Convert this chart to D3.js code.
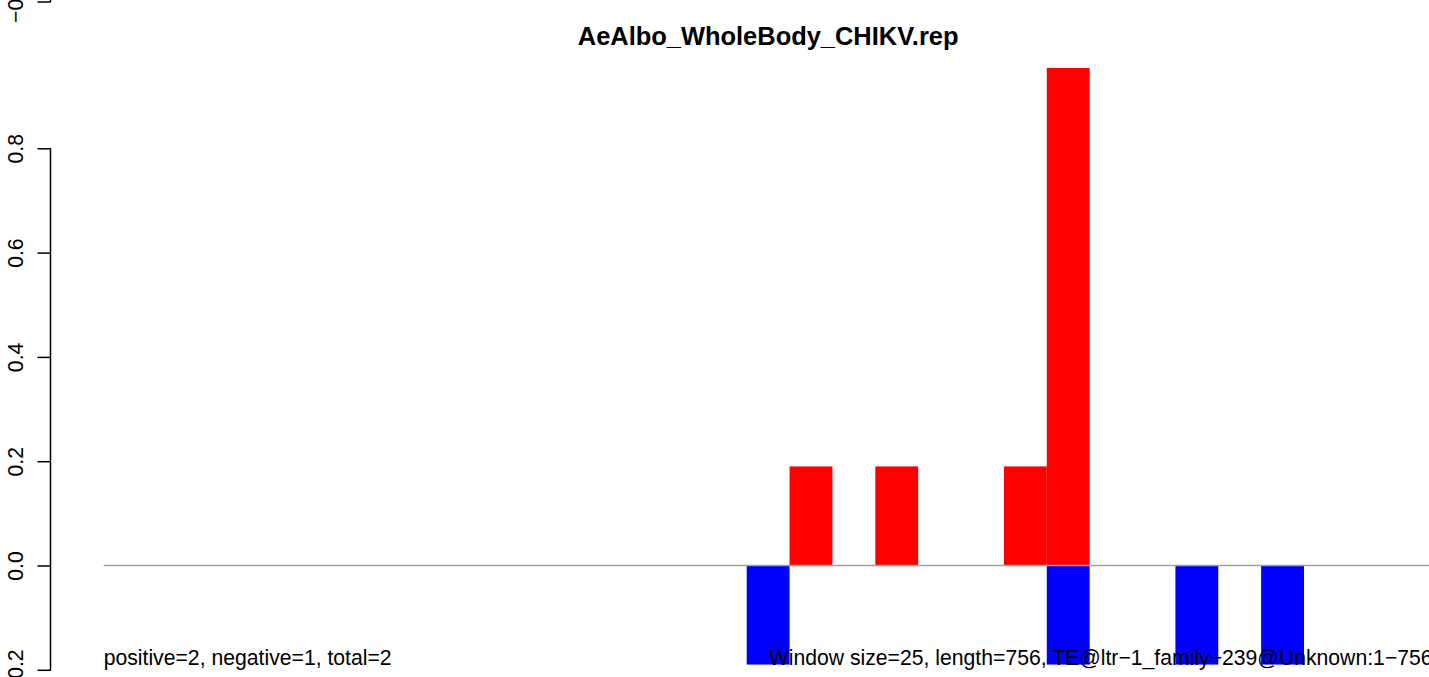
<!DOCTYPE html>
<html>
<head>
<meta charset="utf-8">
<script src="https://cdn.jsdelivr.net/npm/d3@7"></script>
<style>
  html, body { margin: 0; padding: 0; background: #fff; overflow: hidden; }
  svg { display: block; font-family: "Liberation Sans", Arial, Helvetica, sans-serif; }
</style>
</head>
<body>
<svg id="chart" width="1429" height="677"></svg>
<script>
// ---- data ----
const title = "AeAlbo_WholeBody_CHIKV.rep";
const nWindows = 31;                       // 756 / 25 -> 31 windows
const windows = d3.range(nWindows);        // window index 0..30
const positiveValues = [0,0,0,0,0,0,0,0,0,0,0,0,0,0,0,0,0.19,0,0.19,0,0,0.19,0.954,0,0,0,0,0,0,0,0];
const negativeValues = [0,0,0,0,0,0,0,0,0,0,0,0,0,0,0,-0.19,0,0,0,0,0,0,-0.19,0,0,-0.19,0,-0.19,0,0,0];
const yTicks = [-0.2, 0.0, 0.2, 0.4, 0.6, 0.8];
const upperPanelTicks = [-0.2];            // bottom tick of the panel above (cropped)
const leftNote = "positive=2, negative=1, total=2";
const rightNote = "Window size=25, length=756, TE@ltr\u22121_family\u2212239@Unknown:1\u2212756";

// ---- layout ----
const svg = d3.select("#chart");
const barW = 42.87;
const x0px = 103.65;
const pad = 0.04 * nWindows;
const x = d3.scaleLinear()
  .domain([-pad, nWindows + pad])
  .range([x0px - pad * barW, x0px + (nWindows + pad) * barW]);
const y = d3.scaleLinear().domain([0, 1]).range([565.5, 565.5 - 521.5]);
const panelOffset = 668.3;
const yUpper = d3.scaleLinear().domain([0, 1]).range([565.5 - panelOffset, 565.5 - panelOffset - 521.5]);

const fmtTick = d => (d < 0 ? "\u2212" : "") + d3.format(".1f")(Math.abs(d));
const FS = 21.2;

// bars
const bars = svg.append("g");
bars.selectAll("rect.neg")
  .data(windows.filter(i => negativeValues[i] !== 0))
  .join("rect")
  .attr("class", "neg")
  .attr("x", i => x(i))
  .attr("width", i => x(i + 1) - x(i))
  .attr("y", y(0))
  .attr("height", i => y(negativeValues[i]) - y(0))
  .attr("fill", "#0000ff");
bars.selectAll("rect.pos")
  .data(windows.filter(i => positiveValues[i] !== 0))
  .join("rect")
  .attr("class", "pos")
  .attr("x", i => x(i))
  .attr("width", i => x(i + 1) - x(i))
  .attr("y", i => y(positiveValues[i]))
  .attr("height", i => y(0) - y(positiveValues[i]))
  .attr("fill", "#ff0000");

// zero line across the windows
svg.append("line")
  .attr("x1", x(0)).attr("x2", x(nWindows))
  .attr("y1", y(0)).attr("y2", y(0))
  .attr("stroke", "#a0a0a0").attr("stroke-width", 1.3);

// y axis
const axisX = Math.round(x(-pad)) + 0.5;
function drawAxis(scale, ticks, extendTop) {
  const g = svg.append("g")
    .attr("transform", `translate(${axisX},0)`)
    .call(d3.axisLeft(scale).tickValues(ticks).tickSize(13).tickPadding(0).tickFormat(fmtTick));
  g.select(".domain").remove();
  const yTop = extendTop !== undefined ? extendTop : scale(d3.max(ticks));
  g.append("line")
    .attr("x1", 0).attr("x2", 0)
    .attr("y1", yTop).attr("y2", scale(d3.min(ticks)) + 0.75)
    .attr("stroke", "#000").attr("stroke-width", 1.5);
  g.selectAll(".tick line").attr("stroke", "#000").attr("stroke-width", 1.5);
  g.selectAll(".tick text")
    .attr("font-family", "Liberation Sans, Arial, sans-serif")
    .attr("font-size", FS)
    .attr("fill", "#000")
    .attr("x", null)
    .attr("text-anchor", "middle")
    .attr("transform", `translate(${22.5 - axisX},0) rotate(-90)`)
    .attr("dy", "0");
  return g;
}
drawAxis(y, yTicks);
drawAxis(yUpper, upperPanelTicks, -50);

// title
svg.append("text")
  .attr("x", (x(-pad) + x(nWindows + pad)) / 2)
  .attr("y", 45)
  .attr("text-anchor", "middle")
  .attr("font-weight", "bold")
  .attr("font-size", FS * 1.2)
  .text(title);

// notes
svg.append("text")
  .attr("x", x(0)).attr("y", 665)
  .attr("font-size", FS)
  .attr("text-anchor", "start")
  .text(leftNote);
svg.append("text")
  .attr("x", x(nWindows)).attr("y", 665)
  .attr("font-size", FS)
  .attr("text-anchor", "end")
  .text(rightNote);
</script>
</body>
</html>
